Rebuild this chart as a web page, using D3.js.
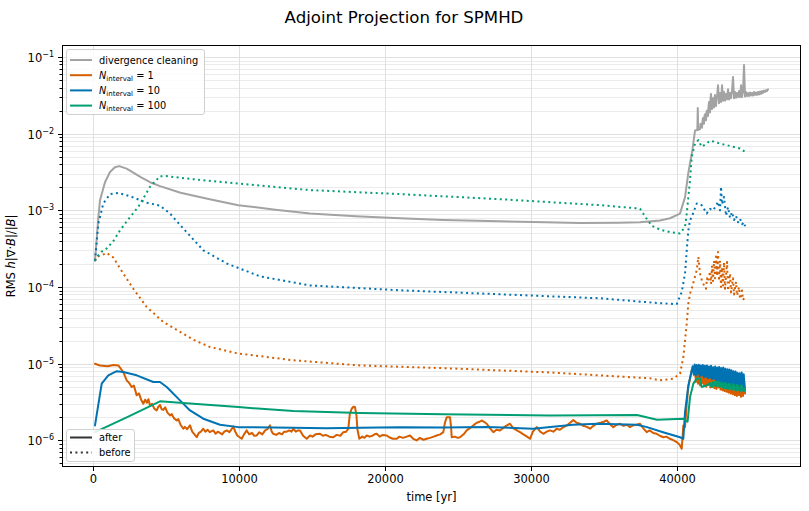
<!DOCTYPE html>
<html lang="en">
<head>
<meta charset="UTF-8">
<title>Adjoint Projection for SPMHD</title>
<script src="https://cdn.jsdelivr.net/npm/d3@7"></script>
<style>
  body { margin: 0; background: #fff; }
  text { font-family: "DejaVu Sans", sans-serif; fill: #000; }
</style>
</head>
<body>
<div id="chart"></div>
<script>
// each series is [time (yr), RMS h|div B|/|B|]
var divClean = [[137,2.2e-4],[363,8.0e-4],[480,1.36e-3],[822,2.33e-3],[1165,3.17e-3],[1500,3.65e-3],[1800,3.78e-3],
  [2300,3.5e-3],[2536,3.3e-3],[3300,2.7e-3],[3907,2.33e-3],[4592,2.07e-3],[6000,1.7e-3],[8000,1.4e-3],[9959,1.17e-3],
  [12500,1.02e-3],[14873,9.1e-4],[18000,8.4e-4],[21042,7.9e-4],[24000,7.5e-4],[27896,7.2e-4],[31000,7.0e-4],
  [33379,6.85e-4],[36000,6.9e-4],[37492,7.0e-4],[38863,7.4e-4],[39548,7.9e-4],[40234,9.1e-4],[40577,1.49e-3],
  [40800,3.06e-3],[41080,6.1e-3],[41262,1.1e-2],[41420,1.12e-2],[41450,2.16e-2],[41480,1.12e-2],
  [41604,1.15e-2],[41640,1.35e-2],[41673,1.25e-2],[41741,1.2e-2],[41780,1.5e-2],[41810,1.6e-2],[41878,1.35e-2],
  [41910,1.7e-2],[41947,1.8e-2],[42015,1.5e-2],[42050,1.9e-2],[42084,2.0e-2],[42153,1.7e-2],[42190,2.3e-2],
  [42221,2.6e-2],[42290,1.9e-2],[42320,2.8e-2],[42358,3.3e-2],[42427,2.1e-2],[42460,2.7e-2],[42495,2.9e-2],
  [42564,2.2e-2],[42600,2.9e-2],[42632,3.2e-2],[42701,2.3e-2],[42735,2.8e-2],[42769,3.0e-2],[42838,4.3e-2],
  [42907,2.5e-2],[42940,3.1e-2],[42975,3.4e-2],[43044,2.6e-2],[43080,3.3e-2],[43112,4.3e-2],[43180,2.7e-2],
  [43215,3.2e-2],[43249,3.5e-2],[43317,2.7e-2],[43350,3.1e-2],[43386,3.3e-2],[43455,2.8e-2],[43490,3.3e-2],
  [43523,3.8e-2],[43592,2.8e-2],[43625,3.2e-2],[43660,3.4e-2],[43729,2.9e-2],[43760,3.3e-2],[43797,3.6e-2],
  [43866,5.5e-2],[43934,2.9e-2],[43970,3.3e-2],[44003,3.5e-2],[44071,2.95e-2],[44105,3.2e-2],[44140,3.4e-2],
  [44208,3.0e-2],[44240,3.3e-2],[44277,3.6e-2],[44346,3.0e-2],[44380,3.4e-2],[44414,4.3e-2],[44483,3.0e-2],
  [44515,3.3e-2],[44551,3.5e-2],[44620,7.9e-2],[44689,3.05e-2],[44720,3.3e-2],[44757,3.5e-2],[44826,3.1e-2],
  [44894,3.4e-2],[44963,3.1e-2],[45031,3.45e-2],[45100,3.15e-2],[45168,3.4e-2],[45237,3.15e-2],[45305,3.5e-2],
  [45374,3.2e-2],[45442,3.45e-2],[45511,3.2e-2],[45579,3.5e-2],[45648,3.25e-2],[45717,3.55e-2],[45785,3.3e-2],
  [45854,3.6e-2],[45922,3.4e-2],[45991,3.65e-2],[46060,3.5e-2],[46128,3.7e-2],[46197,3.6e-2],[46265,3.8e-2]];

var n1After = [[137,1.0e-5],[480,9.5e-6],[1000,9.3e-6],[1400,9.6e-6],[1734,9.5e-6],[2077,7.8e-6],[2310,6.07e-6],
  [2480,5.6e-6],[2652,4.97e-6],[2800,5.2e-6],[2995,3.87e-6],[3150,4.1e-6],[3300,3.4e-6],[3448,3.01e-6],[3580,3.4e-6],
  [3700,3.1e-6],[3800,3.45e-6],[3907,2.86e-6],[4050,3.0e-6],[4200,2.6e-6],[4366,2.46e-6],[4480,2.75e-6],
  [4600,2.9e-6],[4700,2.55e-6],[4818,2.5e-6],[4950,2.7e-6],[5100,2.3e-6],[5278,2.12e-6],[5400,2.2e-6],
  [5550,1.95e-6],[5737,1.82e-6],[5850,1.9e-6],[6000,1.6e-6],[6189,1.42e-6],[6300,1.5e-6],[6450,1.4e-6],
  [6648,1.57e-6],[6800,1.3e-6],[6950,1.2e-6],[7108,1.1e-6],[7250,1.25e-6],[7400,1.3e-6],[7560,1.42e-6],
  [7700,1.3e-6],[7850,1.38e-6],[8000,1.28e-6],[8245,1.35e-6],[8400,1.22e-6],[8550,1.3e-6],[8700,1.25e-6],
  [8850,1.2e-6],[9000,1.3e-6],[9164,1.35e-6],[9350,1.28e-6],[9500,1.4e-6],[9616,1.52e-6],[9750,1.3e-6],
  [9900,1.15e-6],[10050,1.1e-6],[10192,1.05e-6],[10350,1.2e-6],[10535,1.35e-6],[10700,1.2e-6],[10900,1.25e-6],
  [11050,1.15e-6],[11220,1.16e-6],[11400,1.28e-6],[11600,1.2e-6],[11800,1.35e-6],[11950,1.4e-6],[12132,1.57e-6],
  [12250,1.3e-6],[12358,1.22e-6],[12550,1.18e-6],[12750,1.25e-6],[12950,1.2e-6],[13100,1.3e-6],[13276,1.3e-6],
  [13450,1.35e-6],[13600,1.3e-6],[13729,1.42e-6],[13900,1.3e-6],[14050,1.35e-6],[14188,1.35e-6],[14400,1.15e-6],
  [14647,1.05e-6],[14873,1.16e-6],[15050,1.12e-6],[15250,1.2e-6],[15559,1.22e-6],[15750,1.15e-6],[15950,1.18e-6],
  [16200,1.12e-6],[16470,1.1e-6],[16700,1.18e-6],[16950,1.15e-6],[17156,1.28e-6],[17350,1.3e-6],[17498,1.42e-6],
  [17600,2.2e-6],[17731,2.59e-6],[17850,2.75e-6],[17957,2.72e-6],[18060,2.1e-6],[18115,1.42e-6],[18252,1.05e-6],
  [18450,1.12e-6],[18600,1.08e-6],[18760,1.16e-6],[18950,1.12e-6],[19150,1.15e-6],[19300,1.2e-6],[19445,1.22e-6],
  [19650,1.12e-6],[19850,1.18e-6],[20130,1.16e-6],[20300,1.1e-6],[20550,1.05e-6],[20816,1.05e-6],[21000,1.12e-6],
  [21250,1.08e-6],[21500,1.12e-6],[21727,1.16e-6],[21950,1.05e-6],[22187,1.0e-6],[22400,1.08e-6],[22650,1.02e-6],
  [22872,1.05e-6],[23100,1.08e-6],[23350,1.12e-6],[23557,1.16e-6],[23800,1.2e-6],[24010,1.28e-6],[24120,1.7e-6],
  [24243,2.01e-6],[24469,2.01e-6],[24540,1.5e-6],[24585,1.1e-6],[24800,1.12e-6],[25000,1.08e-6],[25154,1.1e-6],
  [25400,1.2e-6],[25613,1.35e-6],[25850,1.45e-6],[26066,1.57e-6],[26300,1.7e-6],[26500,1.75e-6],[26641,1.82e-6],
  [26800,1.75e-6],[26984,1.65e-6],[27200,1.45e-6],[27436,1.28e-6],[27650,1.38e-6],[27896,1.35e-6],[28200,1.5e-6],
  [28400,1.58e-6],[28581,1.65e-6],[28800,1.45e-6],[29050,1.35e-6],[29266,1.28e-6],[29500,1.2e-6],[29750,1.12e-6],
  [29952,1.05e-6],[30150,1.3e-6],[30411,1.49e-6],[30650,1.3e-6],[30863,1.22e-6],[31100,1.3e-6],[31323,1.35e-6],
  [31550,1.3e-6],[31782,1.42e-6],[32000,1.38e-6],[32234,1.49e-6],[32450,1.55e-6],[32700,1.7e-6],[32920,1.84e-6],
  [33150,1.7e-6],[33379,1.65e-6],[33600,1.55e-6],[33850,1.5e-6],[34064,1.42e-6],[34300,1.55e-6],[34523,1.65e-6],
  [34800,1.7e-6],[35000,1.75e-6],[35209,1.82e-6],[35400,1.65e-6],[35661,1.49e-6],[35900,1.6e-6],[36121,1.65e-6],
  [36350,1.55e-6],[36600,1.6e-6],[36806,1.49e-6],[37050,1.58e-6],[37250,1.6e-6],[37492,1.65e-6],[37700,1.45e-6],
  [37951,1.28e-6],[38150,1.35e-6],[38400,1.25e-6],[38636,1.22e-6],[38850,1.15e-6],[39089,1.1e-6],[39300,1.12e-6],
  [39548,1.05e-6],[39800,1.0e-6],[40008,9.5e-7],[40150,9.0e-7],[40234,8.6e-7],[40350,7.8e-7],[40420,1.2e-6],
  [40460,1.57e-6],[40577,1.49e-6],[40693,3.0e-6],[40803,4.97e-6],[41035,8.2e-6],[41145,8.7e-6],
  [41260,8.0e-6],[41330,5.8e-6],[41400,8.8e-6],[41470,5.5e-6],[41540,8.5e-6],[41610,5.2e-6],[41680,8.9e-6],
  [41750,5.6e-6],[41820,8.6e-6],[41890,5.1e-6],[41960,8.7e-6],[42030,5.0e-6],[42100,8.4e-6],[42170,5.3e-6],
  [42240,8.6e-6],[42310,4.9e-6],[42380,8.3e-6],[42450,5.0e-6],[42520,8.4e-6],[42590,4.8e-6],[42660,8.1e-6],
  [42730,4.7e-6],[42800,8.2e-6],[42870,4.9e-6],[42940,8.3e-6],[43010,4.6e-6],[43080,7.9e-6],[43150,4.5e-6],
  [43220,8.0e-6],[43290,4.4e-6],[43360,7.7e-6],[43430,4.3e-6],[43500,7.8e-6],[43570,4.2e-6],[43640,7.4e-6],
  [43710,4.1e-6],[43780,7.3e-6],[43850,4.0e-6],[43920,7.1e-6],[43990,3.9e-6],[44060,7.0e-6],[44130,3.8e-6],
  [44200,6.8e-6],[44270,3.9e-6],[44340,6.7e-6],[44410,3.7e-6],[44480,6.5e-6],[44550,3.8e-6],[44620,6.2e-6],
  [44690,4.1e-6]];

var n1Before = [[137,2.2e-4],[254,2.47e-4],[596,2.6e-4],[939,2.79e-4],[1391,2.43e-4],[2077,1.5e-4],[2762,9.5e-5],
  [3681,5.5e-5],[4818,3.5e-5],[6875,2.06e-5],[8019,1.65e-5],[9959,1.36e-5],[13729,1.11e-5],[18300,9.5e-6],
  [24469,8.7e-6],[31323,7.7e-6],[38177,6.45e-6],[38863,6.07e-6],[39775,6.4e-6],[40234,7.4e-6],[40460,1.22e-5],
  [40577,2.02e-5],[40693,3.34e-5],[40803,6.1e-5],[40919,8.2e-5],[41035,9.5e-5],[41378,1.66e-4],[41488,2.47e-4],
  [41604,1.5e-4],[41741,1.2e-4],[41878,1.05e-4],[42015,9.5e-5],[42084,1.3e-4],[42153,1.17e-4],[42290,1.6e-4],
  [42358,1.1e-4],[42427,1.9e-4],[42495,1.2e-4],[42564,2.2e-4],[42632,1.3e-4],[42701,2.5e-4],[42769,1.4e-4],
  [42838,2.87e-4],[42907,1.2e-4],[42975,2.2e-4],[43044,1.0e-4],[43112,1.8e-4],[43180,1.05e-4],[43249,2.1e-4],
  [43317,9.5e-5],[43455,2.13e-4],[43523,9.0e-5],[43660,1.5e-4],[43729,8.5e-5],[43866,1.3e-4],[43934,8.0e-5],
  [44071,1.17e-4],[44140,7.8e-5],[44277,1.0e-4],[44346,7.0e-5],[44483,9.0e-5],[44551,6.8e-5],[44689,7.5e-5]];

var n10After = [[137,1.57e-6],[596,5.5e-6],[1049,7.06e-6],[1624,8.0e-6],[2077,7.8e-6],[2995,7.06e-6],[4133,5.77e-6],
  [4592,5.77e-6],[5051,4.97e-6],[5963,3.33e-6],[6648,2.46e-6],[7560,1.92e-6],[8705,1.6e-6],[9959,1.49e-6],
  [13729,1.46e-6],[16000,1.44e-6],[18300,1.46e-6],[21000,1.49e-6],[24000,1.47e-6],[27000,1.5e-6],[30158,1.42e-6],
  [32899,1.6e-6],[34544,1.65e-6],[37286,1.6e-6],[37971,1.49e-6],[39069,1.28e-6],[40234,1.1e-6],[40460,1.05e-6],
  [40577,2.34e-6],[40803,5.2e-6],[41035,8.2e-6],
  [41100,9.3e-6],[41170,7.2e-6],[41240,9.8e-6],[41310,7.0e-6],[41380,9.6e-6],[41450,7.4e-6],[41520,9.7e-6],
  [41590,6.9e-6],[41660,9.5e-6],[41730,7.1e-6],[41800,9.6e-6],[41870,6.7e-6],[41940,9.4e-6],[42010,6.8e-6],
  [42080,9.5e-6],[42150,6.5e-6],[42220,9.2e-6],[42290,6.6e-6],[42360,9.4e-6],[42430,6.3e-6],[42500,9.0e-6],
  [42570,6.4e-6],[42640,9.2e-6],[42710,6.1e-6],[42780,8.9e-6],[42850,6.0e-6],[42920,9.1e-6],[42990,5.9e-6],
  [43060,8.8e-6],[43130,5.8e-6],[43200,8.9e-6],[43270,5.6e-6],[43340,8.6e-6],[43410,5.5e-6],[43480,8.5e-6],
  [43550,5.4e-6],[43620,8.4e-6],[43690,5.2e-6],[43760,8.2e-6],[43830,5.1e-6],[43900,8.0e-6],[43970,5.0e-6],
  [44040,7.9e-6],[44110,4.9e-6],[44180,7.6e-6],[44250,4.7e-6],[44320,7.5e-6],[44390,4.6e-6],[44460,7.7e-6],
  [44530,4.5e-6],[44600,7.3e-6],[44670,4.6e-6]];

var n10Before = [[137,2.2e-4],[363,6.7e-4],[706,1.23e-3],[1165,1.63e-3],[1734,1.69e-3],[2536,1.53e-3],[3681,1.26e-3],
  [4592,1.15e-3],[5278,9.1e-4],[6189,5.8e-4],[7560,3.02e-4],[9164,2.03e-4],[11446,1.38e-4],[14873,1.05e-4],
  [21042,9.08e-5],[27896,8.05e-5],[34750,7.14e-5],[38863,6.15e-5],[40008,6.0e-5],[40350,8.6e-5],[40577,1.5e-4],
  [40693,3.0e-4],[40803,5.5e-4],[40919,7.45e-4],[41035,8.2e-4],[41378,1.23e-3],[41721,1.17e-3],[42063,9.1e-4],
  [42290,1.05e-3],[42495,1.0e-3],[42701,1.15e-3],[42838,1.3e-3],[42975,1.0e-3],[43044,2.03e-3],[43112,1.2e-3],
  [43249,1.5e-3],[43386,8.5e-4],[43523,1.1e-3],[43660,8.0e-4],[43797,9.5e-4],[43934,7.5e-4],[44071,8.5e-4],
  [44208,7.0e-4],[44346,7.8e-4],[44483,6.6e-4],[44620,7.0e-4],[44689,6.2e-4]];

var n100After = [[137,1.28e-6],[2310,2.0e-6],[4592,3.23e-6],[6875,3.01e-6],[9959,2.72e-6],[13729,2.41e-6],
  [18300,2.27e-6],[24000,2.2e-6],[31323,2.12e-6],[37286,2.15e-6],[38657,1.86e-6],[40460,1.92e-6],[40750,1.75e-6],
  [40919,3.67e-6],[41145,5.5e-6],[41378,6.4e-6],[41604,6.4e-6],[41721,4.97e-6],[42153,5.3e-6],[42290,5.6e-6],
  [42360,5.1e-6],[42427,5.0e-6],[42500,5.7e-6],[42564,5.8e-6],[42640,5.2e-6],[42701,5.1e-6],[42770,5.8e-6],
  [42838,5.9e-6],[42910,5.1e-6],[42975,5.0e-6],[43040,5.7e-6],[43112,5.6e-6],[43180,4.9e-6],[43249,4.8e-6],
  [43320,5.6e-6],[43386,5.5e-6],[43450,4.8e-6],[43523,4.7e-6],[43590,5.5e-6],[43660,5.4e-6],[43730,4.7e-6],
  [43797,4.6e-6],[43870,5.4e-6],[43934,5.3e-6],[44000,4.6e-6],[44071,4.5e-6],[44140,5.3e-6],[44208,5.2e-6],
  [44280,4.5e-6],[44346,4.4e-6],[44410,5.2e-6],[44483,5.1e-6],[44550,4.5e-6],[44620,4.4e-6],[44689,4.8e-6]];

var n100Before = [[137,2.2e-4],[254,2.47e-4],[600,2.9e-4],[939,3.19e-4],[1400,4.0e-4],[1851,5.5e-4],[2500,8.0e-4],
  [3105,1.11e-3],[3907,2.03e-3],[4592,2.79e-3],[5000,2.8e-3],[6875,2.55e-3],[9959,2.24e-3],[14873,1.84e-3],
  [21042,1.63e-3],[27896,1.4e-3],[34750,1.17e-3],[37149,1.07e-3],[37492,1.05e-3],[37900,8.0e-4],[38300,6.3e-4],
  [38863,5.6e-4],[39548,5.2e-4],[40234,5.0e-4],[40577,6.1e-4],[40693,9.1e-4],[40919,2.48e-3],[41035,4.99e-3],
  [41262,7.47e-3],[41488,8.25e-3],[41721,6.75e-3],[42063,7.47e-3],[42290,8.1e-3],[42632,7.84e-3],[42975,7.4e-3],
  [43434,7.1e-3],[43800,6.8e-3],[44346,6.43e-3],[44689,5.8e-3]];

var xTicks = [0, 10000, 20000, 30000, 40000];
var yTickExps = [-6, -5, -4, -3, -2, -1];

var colGrey = "#a3a3a3", colOrange = "#d55e00", colBlue = "#0173b2", colGreen = "#029e73";

// dimensions
var margin = {top: 45, right: 8, bottom: 44, left: 62},
    width = 809 - margin.left - margin.right,
    height = 511 - margin.top - margin.bottom;

var svg = d3.select("#chart").append("svg")
    .attr("width", 809).attr("height", 511);

var g = svg.append("g")
    .attr("transform", "translate(" + margin.left + "," + margin.top + ")");

var x = d3.scaleLinear().domain([-2125, 48525]).range([0, width]);
var y = d3.scaleLog().domain([4.5e-7, 0.1436]).range([height, 0]);

// minor y values
var yMinor = [];
for (var e = -7; e <= -1; e++) {
  for (var k = 2; k <= 9; k++) {
    var v = k * Math.pow(10, e);
    if (v > 4.5e-7 && v < 0.1436) yMinor.push(v);
  }
}
var yMajor = yTickExps.map(function(p) { return Math.pow(10, p); });

// grid
g.selectAll(".gminor").data(yMinor).enter().append("line")
  .attr("x1", 0).attr("x2", width)
  .attr("y1", function(d) { return Math.round(y(d)) + 0.5; })
  .attr("y2", function(d) { return Math.round(y(d)) + 0.5; })
  .style("stroke", "#ebebeb").style("stroke-width", 1);
g.selectAll(".gmajor").data(yMajor).enter().append("line")
  .attr("x1", 0).attr("x2", width)
  .attr("y1", function(d) { return Math.round(y(d)) + 0.5; })
  .attr("y2", function(d) { return Math.round(y(d)) + 0.5; })
  .style("stroke", "#e0e0e0").style("stroke-width", 1);
g.selectAll(".gx").data(xTicks).enter().append("line")
  .attr("y1", 0).attr("y2", height)
  .attr("x1", function(d) { return Math.round(x(d)) + 0.5; })
  .attr("x2", function(d) { return Math.round(x(d)) + 0.5; })
  .style("stroke", "#e0e0e0").style("stroke-width", 1);

// clip
svg.append("defs").append("clipPath").attr("id", "clip")
  .append("rect").attr("width", width).attr("height", height);

var line = d3.line()
  .x(function(d) { return x(d[0]); })
  .y(function(d) { return y(d[1]); });

var plot = g.append("g").attr("clip-path", "url(#clip)");

function drawSeries(data, color, dotted) {
  var p = plot.append("path")
    .datum(data)
    .attr("d", line)
    .style("fill", "none")
    .style("stroke", color)
    .style("stroke-width", 2)
    .style("stroke-linejoin", "round");
  if (dotted) p.style("stroke-dasharray", "2,3.4");
  else p.style("stroke-linecap", "round");
}

drawSeries(divClean, colGrey, false);
drawSeries(n1Before, colOrange, true);
drawSeries(n1After, colOrange, false);
drawSeries(n10Before, colBlue, true);
drawSeries(n10After, colBlue, false);
drawSeries(n100Before, colGreen, true);
drawSeries(n100After, colGreen, false);

// frame
g.append("rect").attr("x", 0.5).attr("y", 0.5)
  .attr("width", width - 1).attr("height", height - 1)
  .style("fill", "none").style("stroke", "#000").style("stroke-width", 1);

// x ticks
var xt = g.selectAll(".xt").data(xTicks).enter().append("g")
  .attr("transform", function(d) { return "translate(" + (Math.round(x(d)) + 0.5) + "," + height + ")"; });
xt.append("line").attr("y1", 0).attr("y2", 4).style("stroke", "#000");
xt.append("text").attr("y", 16).attr("text-anchor", "middle")
  .style("font-size", "11.5px").text(function(d) { return d; });

// y ticks
g.selectAll(".ym").data(yMinor).enter().append("line")
  .attr("x1", -2.5).attr("x2", 0)
  .attr("y1", function(d) { return Math.round(y(d)) + 0.5; })
  .attr("y2", function(d) { return Math.round(y(d)) + 0.5; })
  .style("stroke", "#000");
var yt = g.selectAll(".yt").data(yTickExps).enter().append("g")
  .attr("transform", function(d) { return "translate(0," + (Math.round(y(Math.pow(10, d))) + 0.5) + ")"; });
yt.append("line").attr("x1", -4).attr("x2", 0).style("stroke", "#000");
var ytx = yt.append("text").attr("x", -8).attr("y", 4).attr("text-anchor", "end").style("font-size", "11.5px");
ytx.append("tspan").text("10");
ytx.append("tspan").attr("dy", -5).style("font-size", "8px").text(function(d) { return "\u2212" + Math.abs(d); });

// axis labels
svg.append("text").attr("x", margin.left + width / 2).attr("y", 501)
  .attr("text-anchor", "middle").style("font-size", "11.5px").text("time [yr]");

var yl = svg.append("text")
  .attr("transform", "translate(15," + (margin.top + height / 2) + ") rotate(-90)")
  .attr("text-anchor", "middle").style("font-size", "11.5px");
yl.append("tspan").text("RMS ");
yl.append("tspan").style("font-style", "italic").text("h");
yl.append("tspan").text("|\u2207\u00b7");
yl.append("tspan").style("font-style", "italic").text("B");
yl.append("tspan").text("|/|");
yl.append("tspan").style("font-style", "italic").text("B");
yl.append("tspan").text("|");

// title
svg.append("text").attr("x", 404).attr("y", 23).attr("text-anchor", "middle")
  .style("font-size", "16.6px").text("Adjoint Projection for SPMHD");

// legends
var legendItems = [
  {label: "divergence cleaning", color: colGrey, n: null},
  {label: "1", color: colOrange, n: true},
  {label: "10", color: colBlue, n: true},
  {label: "100", color: colGreen, n: true}
];
var leg = svg.append("g");
leg.append("rect").attr("x", 66.5).attr("y", 49.5).attr("width", 138).attr("height", 65).attr("rx", 2.5)
  .style("fill", "#fff").style("fill-opacity", 0.85).style("stroke", "#d0d0d0");
legendItems.forEach(function(it, i) {
  var yy = 60 + i * 15.2;
  leg.append("line").attr("x1", 70).attr("x2", 92).attr("y1", yy).attr("y2", yy)
    .style("stroke", it.color).style("stroke-width", 2);
  var t = leg.append("text").attr("x", 99).attr("y", yy + 3.5).style("font-size", "9.8px");
  if (!it.n) { t.text(it.label); return; }
  t.append("tspan").style("font-style", "italic").text("N");
  t.append("tspan").attr("dy", 2).style("font-size", "7px").text("interval");
  t.append("tspan").attr("dy", -2).text(" = " + it.label);
});

var leg2 = svg.append("g");
leg2.append("rect").attr("x", 66.5).attr("y", 429.5).attr("width", 68).attr("height", 32).attr("rx", 2.5)
  .style("fill", "#fff").style("fill-opacity", 0.85).style("stroke", "#d0d0d0");
[{label: "after", dotted: false}, {label: "before", dotted: true}].forEach(function(it, i) {
  var yy = 437.5 + i * 15;
  var l = leg2.append("line").attr("x1", 70).attr("x2", 92).attr("y1", yy).attr("y2", yy)
    .style("stroke", "#333").style("stroke-width", 2);
  if (it.dotted) l.style("stroke-dasharray", "2,3.4");
  leg2.append("text").attr("x", 99).attr("y", yy + 3.5).style("font-size", "9.8px").text(it.label);
});
</script>
</body>
</html>
